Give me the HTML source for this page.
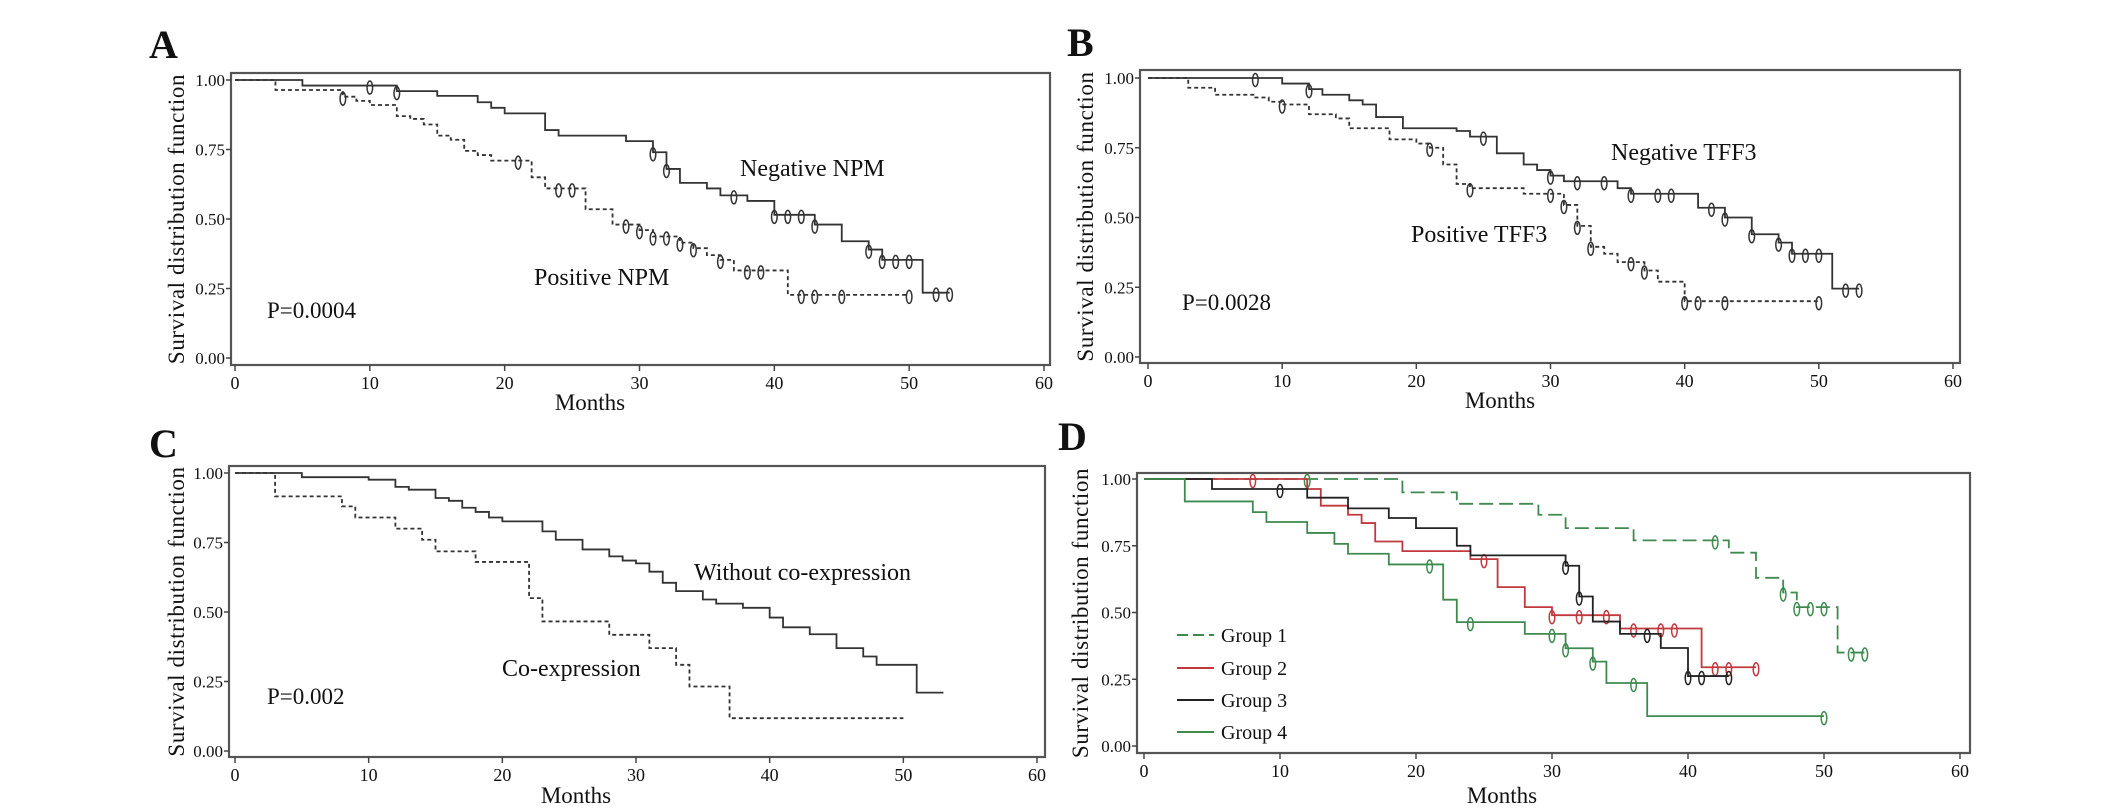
<!DOCTYPE html>
<html><head><meta charset="utf-8"><style>
html,body{margin:0;padding:0;background:#fff;}
svg{display:block;}
text{font-family:"Liberation Serif",serif;fill:#111;}
</style></head>
<body>
<svg id="fig" width="2126" height="812" viewBox="0 0 2126 812" xmlns="http://www.w3.org/2000/svg"></svg>
<script>
// ---- data (months / survival probability) ----
const xTicks = [0,10,20,30,40,50,60];
const yTicks = [0,0.25,0.5,0.75,1];
const yTickLabels = ["0.00","0.25","0.50","0.75","1.00"];

const aNegTimes = [0,5,12,15,18,19,20,23,24,29,31,32,33,35,36,38,40,43,45,47,48,51];
const aNegSurv  = [1,0.98,0.96,0.943,0.92,0.90,0.88,0.82,0.80,0.78,0.74,0.68,0.63,0.61,0.585,0.565,0.515,0.48,0.42,0.39,0.353,0.235];
const aNegCens  = [10,12,31,32,37,40,41,42,43,47,48,49,50,52,53];
const aNegEnd = 53;
const aPosTimes = [0,3,8,9,10,12,13,14,15,16,17,18,19,22,23,26,28,30,31,33,34,35,36,37,41];
const aPosSurv  = [1,0.964,0.94,0.925,0.91,0.87,0.86,0.84,0.80,0.785,0.745,0.73,0.71,0.65,0.61,0.535,0.48,0.46,0.437,0.415,0.395,0.37,0.353,0.315,0.227];
const aPosCens  = [8,21,24,25,29,30,31,32,33,34,36,38,39,42,43,45,50];
const aPosEnd = 50;

const bNegTimes = [0,10,12,13,15,16,17,19,23,24,26,28,29,30,31,35,36,41,43,45,47,48,51];
const bNegSurv  = [1,0.98,0.96,0.94,0.92,0.905,0.86,0.82,0.81,0.79,0.73,0.69,0.67,0.65,0.63,0.605,0.585,0.535,0.50,0.44,0.41,0.37,0.245];
const bNegCens  = [8,12,25,30,32,34,36,38,39,42,43,45,47,48,49,50,52,53];
const bNegEnd = 53;
const bPosTimes = [0,3,5,8,9,10,12,14,15,18,20,21,22,23,24,28,31,32,33,34,35,37,38,40];
const bPosSurv  = [1,0.965,0.94,0.93,0.915,0.905,0.87,0.855,0.82,0.78,0.765,0.75,0.69,0.62,0.605,0.585,0.545,0.47,0.395,0.37,0.34,0.31,0.27,0.20];
const bPosCens  = [10,21,24,30,31,32,33,36,37,40,41,43,50];
const bPosEnd = 50;

const cWithoutTimes = [0,5,10,12,13,15,16,17,18,19,20,23,24,26,28,29,30,31,32,33,35,36,38,40,41,43,45,47,48,51];
const cWithoutSurv  = [1,0.985,0.976,0.95,0.94,0.91,0.90,0.875,0.86,0.84,0.826,0.79,0.76,0.725,0.70,0.685,0.675,0.645,0.605,0.575,0.545,0.53,0.515,0.48,0.445,0.42,0.37,0.34,0.31,0.21];
const cWithoutEnd = 53;
const cCoTimes = [0,3,8,9,12,14,15,18,22,23,28,31,33,34,37];
const cCoSurv  = [1,0.916,0.88,0.84,0.80,0.76,0.718,0.68,0.55,0.466,0.418,0.37,0.31,0.232,0.118];
const cCoEnd = 50;

const dG1Times = [0,19,23,29,31,36,43,45,47,48,51];
const dG1Surv  = [1,0.95,0.907,0.866,0.816,0.77,0.724,0.63,0.575,0.52,0.35];
const dG1Cens  = [12,42,47,48,49,50,52,53];
const dG1End = 53;
const dG2Times = [0,12,13,15,16,17,19,24,26,28,30,35,41];
const dG2Surv  = [1,0.9625,0.90,0.866,0.835,0.766,0.73,0.70,0.595,0.52,0.49,0.44,0.295];
const dG2Cens  = [8,25,30,32,34,36,38,39,42,43,45];
const dG2End = 45;
const dG3Times = [0,5,12,15,18,20,23,24,31,32,33,35,38,40];
const dG3Surv  = [1,0.9625,0.93,0.89,0.854,0.816,0.75,0.714,0.675,0.56,0.466,0.42,0.367,0.262];
const dG3Cens  = [10,31,32,37,40,41,43];
const dG3End = 43;
const dG4Times = [0,3,8,9,12,14,15,18,22,23,28,31,33,34,37];
const dG4Surv  = [1,0.916,0.876,0.839,0.798,0.757,0.72,0.68,0.548,0.464,0.42,0.366,0.316,0.236,0.112];
const dG4Cens  = [21,24,30,31,33,36,50];
const dG4End = 50;

const NS = "http://www.w3.org/2000/svg";
const svg = document.getElementById('fig');
function mk(tag, attrs, parent){
  const e = document.createElementNS(NS, tag);
  for (const k in attrs) e.setAttribute(k, attrs[k]);
  (parent||svg).appendChild(e);
  return e;
}
function stepVal(times, surv, t){
  let v = surv[0];
  for (let i=0;i<times.length;i++){ if (times[i] <= t) v = surv[i]; }
  return v;
}

function panel(cfg){
  const g = mk('g', {});
  
  
  const sx = m => cfg.x0 + (cfg.x60 - cfg.x0) * m / 60;
  const sy = v => cfg.y0 + (cfg.y1 - cfg.y0) * v;
  cfg.sx = sx; cfg.sy = sy;
  const letter = mk('text', {x:cfg.lx, y:cfg.ly, 'font-size':40, 'font-weight':'bold'}, g);
  letter.textContent = cfg.letter;
  
  
  const box = mk('rect', {x:cfg.l, y:cfg.t, width:cfg.r-cfg.l, height:cfg.b-cfg.t, fill:'none', stroke:'#555', 'stroke-width':2.2}, g);
  
  
  xTicks.forEach(m => {
    const tk = mk('line', {x1:sx(m), x2:sx(m), y1:cfg.b, y2:cfg.b+6, stroke:'#444', 'stroke-width':1.5}, g);
    
    
    const tl = mk('text', {x:sx(m), y:cfg.b+24, 'font-size':18, 'text-anchor':'middle'}, g);
    tl.textContent = m;
    
    
  });
  yTicks.forEach((v,i) => {
    const tk = mk('line', {x1:cfg.l-5, x2:cfg.l, y1:sy(v), y2:sy(v), stroke:'#444', 'stroke-width':1.5}, g);
    
    
    const tl = mk('text', {x:cfg.l-6, y:sy(v)+6, 'font-size':17, 'text-anchor':'end'}, g);
    tl.textContent = yTickLabels[i];
    
    
  });
  const xt = mk('text', {x:cfg.mx, y:cfg.my, 'font-size':23, 'text-anchor':'middle'}, g);
  xt.textContent = 'Months';
  
  
  const cy = (cfg.t + cfg.b)/2;
  const yt = mk('text', {x:cfg.ytx, y:cy, 'font-size':23, 'text-anchor':'middle', 'letter-spacing':'0.6', transform:'rotate(-90 '+cfg.ytx+' '+cy+')'}, g);
  yt.textContent = 'Survival distribution function';
  
  
  cfg.g = g;
  return cfg;
}

function curve(cfg, name, times, surv, end, cens, color, dash){
  const sx = cfg.sx, sy = cfg.sy;
  let d = 'M' + sx(times[0]) + ' ' + sy(surv[0]);
  for (let i=1;i<times.length;i++){
    d += ' H' + sx(times[i]) + ' V' + sy(surv[i]);
  }
  d += ' H' + sx(end);
  const p = mk('path', {d:d, fill:'none', stroke:color, 'stroke-width':1.8}, cfg.g);
  if (dash) p.setAttribute('stroke-dasharray', dash);
  
  
  (cens||[]).forEach(t => {
    const v = stepVal(times, surv, t);
    const e = mk('ellipse', {cx:sx(t), cy:sy(v)+2, rx:2.8, ry:6.5, fill:'none', stroke:color, 'stroke-width':1.5}, cfg.g);
    
    
  });
}
function label(cfg, txt, x, y, name, size){
  const t = mk('text', {x:x, y:y, 'font-size':size||24}, cfg.g);
  t.textContent = txt;
  
  
}

const A = panel({id:'a', letter:'A', lx:149, ly:58, l:231,t:73,r:1050,b:365, x0:235,x60:1044,y1:80,y0:358, mx:590, my:410, ytx:184});
curve(A,'negative-npm',aNegTimes,aNegSurv,aNegEnd,aNegCens,'#333',null);
curve(A,'positive-npm',aPosTimes,aPosSurv,aPosEnd,aPosCens,'#333','4,3');
label(A,'Negative NPM',740,176,'negative-npm-label');
label(A,'Positive NPM',534,285,'positive-npm-label');
label(A,'P=0.0004',267,318,'p-value-a',23);

const B = panel({id:'b', letter:'B', lx:1067, ly:56, l:1140,t:70,r:1960,b:363, x0:1148,x60:1953,y1:78,y0:357, mx:1500, my:408, ytx:1093});
curve(B,'negative-tff3',bNegTimes,bNegSurv,bNegEnd,bNegCens,'#333',null);
curve(B,'positive-tff3',bPosTimes,bPosSurv,bPosEnd,bPosCens,'#333','4,3');
label(B,'Negative TFF3',1611,160,'negative-tff3-label');
label(B,'Positive TFF3',1411,242,'positive-tff3-label');
label(B,'P=0.0028',1182,310,'p-value-b',23);

const C = panel({id:'c', letter:'C', lx:149, ly:457, l:229,t:466,r:1045,b:757, x0:235,x60:1037,y1:473,y0:751, mx:576, my:803, ytx:184});
curve(C,'without-coexpression',cWithoutTimes,cWithoutSurv,cWithoutEnd,[],'#333',null);
curve(C,'coexpression',cCoTimes,cCoSurv,cCoEnd,[],'#333','4,3');
label(C,'Without co-expression',694,580,'without-coexpression-label');
label(C,'Co-expression',502,676,'coexpression-label');
label(C,'P=0.002',267,704,'p-value-c',23);

const D = panel({id:'d', letter:'D', lx:1058, ly:450, l:1137,t:473,r:1970,b:753, x0:1144,x60:1960,y1:479,y0:746, mx:1502, my:803, ytx:1088});
const gGreen = '#3f8a4f', gRed = '#c0393f', gBlack = '#222';
curve(D,'group-1',dG1Times,dG1Surv,dG1End,dG1Cens,gGreen,'14,6');
curve(D,'group-2',dG2Times,dG2Surv,dG2End,dG2Cens,gRed,null);
curve(D,'group-3',dG3Times,dG3Surv,dG3End,dG3Cens,gBlack,null);
curve(D,'group-4',dG4Times,dG4Surv,dG4End,dG4Cens,gGreen,null);
const legendNames = ['Group 1','Group 2','Group 3','Group 4'];
const legendColors = [gGreen,gRed,gBlack,gGreen];
const legendY = [635,668,700,732];
legendNames.forEach((n,i) => {
  const ln = mk('line', {x1:1177, x2:1214, y1:legendY[i], y2:legendY[i], stroke:legendColors[i], 'stroke-width':2}, D.g);
  if (i===0) ln.setAttribute('stroke-dasharray','11,5');
  
  
  const t = mk('text', {x:1221, y:legendY[i]+7, 'font-size':20}, D.g);
  t.textContent = n;
  
  
});
</script>
</body></html>
